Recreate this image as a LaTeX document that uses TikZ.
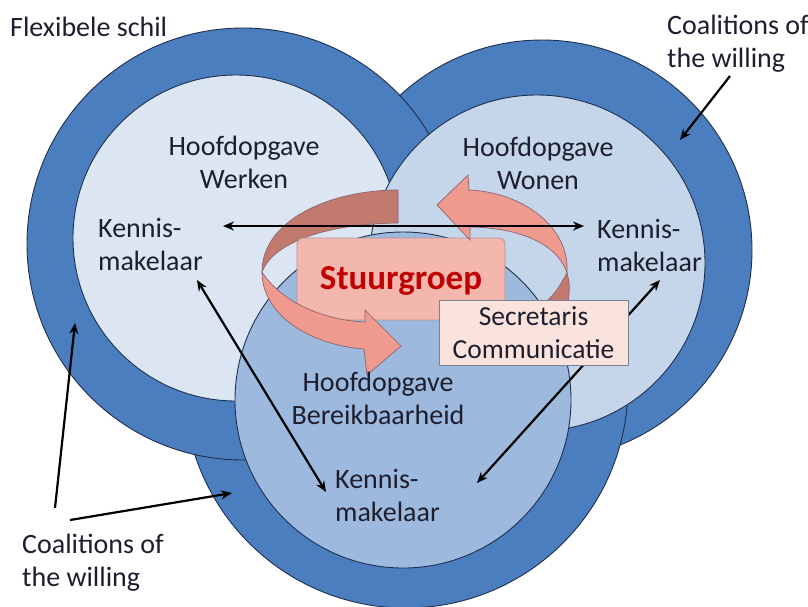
\documentclass[tikz,border=0pt]{standalone}
\usepackage{fontspec}
\setmainfont{Carlito}
\usetikzlibrary{arrows.meta}
\definecolor{ring}{HTML}{4A7EBF}
\definecolor{edgec}{HTML}{1F2F4F}
\definecolor{werk}{HTML}{DCE6F2}
\definecolor{woon}{HTML}{C5D5EA}
\definecolor{bereik}{HTML}{9DBADE}
\definecolor{bandD}{HTML}{C27A6F}
\definecolor{bandL}{HTML}{EE9A8E}
\definecolor{bandE}{HTML}{8E6470}
\definecolor{stuurc}{HTML}{F3B7AE}
\definecolor{secrc}{HTML}{FBE3DD}
\definecolor{txt}{HTML}{1E1E2E}
\definecolor{redc}{HTML}{C00000}
\begin{document}
\begin{tikzpicture}[x=1pt,y=-1pt,
  outerc/.style={fill=ring,draw=edgec,line width=0.9pt},
  innerc/.style={draw=edgec,line width=0.9pt},
  lbl/.style={font=\fontsize{28}{33}\selectfont,text=txt,inner sep=0pt},
  arr/.style={line width=2.2pt,draw=black,{Stealth[length=11pt,width=9pt]}-{Stealth[length=11pt,width=9pt]}},
  arrone/.style={line width=2.2pt,draw=black,-{Stealth[length=11pt,width=9pt]}},
  backband/.style={fill=bandD,draw=bandE,line width=0.7pt},
  frontband/.style={fill=bandL,draw=bandE,line width=0.7pt},
  stuurbox/.style={fill=stuurc,draw=bandE!70,line width=0.8pt,rounded corners=6pt,minimum width=208pt,minimum height=82pt,inner sep=0pt},
  secrbox/.style={fill=secrc,draw=edgec!60,line width=0.9pt,minimum width=189pt,minimum height=65pt,inner sep=0pt,align=center,font=\fontsize{27.5}{33}\selectfont,text=txt}]
\useasboundingbox (0,0) rectangle (808,606);
\fill[white] (0,0) rectangle (808,606);
% rings (draw order matters)
\filldraw[outerc] (542,250) circle[radius=210pt];
\filldraw[outerc] (406,386) circle[radius=222pt];
\filldraw[outerc] (243,244) circle[radius=216pt];
\filldraw[innerc,fill=werk] (236,238) circle[radius=163pt];
\filldraw[innerc,fill=woon] (537,263) circle[radius=168pt];
\filldraw[innerc,fill=bereik] (403,400) circle[radius=168pt];
% arrow end points
\coordinate (dAa) at (197,280);
\coordinate (dAb) at (326,492);
\coordinate (dBa) at (660,280);
\coordinate (dBb) at (477,483);
\coordinate (hL) at (223,226);
\coordinate (hR) at (584,226);
\coordinate (ctrS) at (730,76);
\coordinate (ctrE) at (680,140);
\coordinate (cblS1) at (55,508);
\coordinate (cblE1) at (75,323);
\coordinate (cblS2) at (70,520);
\coordinate (cblE2) at (232,493);
\draw[arr] (dAa) -- (dAb);
\draw[arr] (dBa) -- (dBb);
% back parts of circular arrows
\filldraw[backband] (567,273) .. controls (570,285) .. (568,303) -- (545,303) .. controls (556,292) .. (567,273) -- cycle;
\filldraw[backband] (398,190) .. controls (330,190) and (262,220) .. (262,272) .. controls (272,245) and (320,224) .. (398,223) -- cycle;
% Stuurgroep
\node[stuurbox] (stuur) at (401,279) {};
\node[font=\bfseries\fontsize{35}{40}\selectfont,text=redc,inner sep=0pt] (stuurt) at (401,281) {Stuurgroep};
% front parts
\filldraw[frontband] (262,272) .. controls (262,315) and (310,345) .. (364,349) -- (367,375) -- (401,346) -- (365,310) -- (365,322) .. controls (320,320) and (280,300) .. (262,272) -- cycle;
\filldraw[frontband] (437,205) -- (468,175) -- (469,190) .. controls (520,192) and (570,225) .. (567,273) .. controls (560,250) and (530,228) .. (470,227) -- (470,240) -- cycle;
% Secretaris box
\node[secrbox] (secr) at (533.5,332.5) {Secretaris\\Communicatie};
% horizontal arrow
\draw[arr] (hL) -- (hR);
% texts
\node[lbl,anchor=west] (flex) at (10,27) {Flexibele schil};
\node[lbl,anchor=west,align=left] (cotr) at (667,44) {Coalitions of\\the willing};
\node[lbl,anchor=west,align=left] (cobl) at (22,563) {Coalitions of\\the willing};
\node[lbl,align=center] (werken) at (244,162) {Hoofdopgave\\Werken};
\node[lbl,align=center] (wonen) at (538,163) {Hoofdopgave\\Wonen};
\node[lbl,align=center] (bereikt) at (378,398) {Hoofdopgave\\Bereikbaarheid};
\node[lbl,anchor=west,align=left] (kmL) at (98,244) {Kennis-\\makelaar};
\node[lbl,anchor=west,align=left] (kmR) at (597,245) {Kennis-\\makelaar};
\node[lbl,anchor=west,align=left] (kmB) at (335,495) {Kennis-\\makelaar};
% coalition arrows
\draw[arrone] (ctrS) -- (ctrE);
\draw[arrone] (cblS1) -- (cblE1);
\draw[arrone] (cblS2) -- (cblE2);
\end{tikzpicture}
\end{document}
